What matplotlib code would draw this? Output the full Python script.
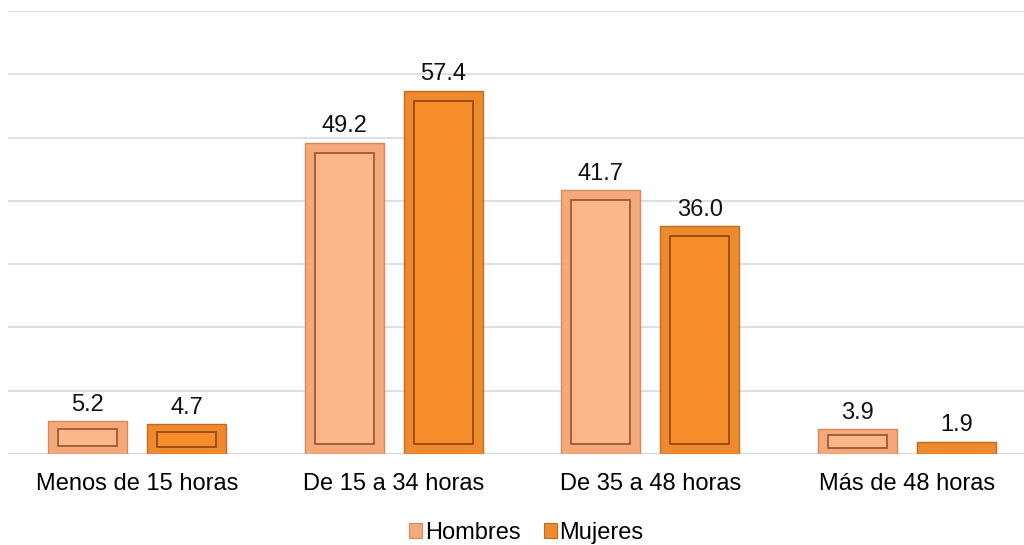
import matplotlib
matplotlib.use("Agg")
import matplotlib.pyplot as plt
from matplotlib.patches import Rectangle
import numpy as np

categories = ["Menos de 15 horas", "De 15 a 34 horas", "De 35 a 48 horas", "Más de 48 horas"]
hombres = [5.2, 49.2, 41.7, 3.9]
mujeres = [4.7, 57.4, 36.0, 1.9]
series_names = ["Hombres", "Mujeres"]

plt.rcParams['font.family'] = ['Liberation Sans', 'DejaVu Sans']

fig = plt.figure(figsize=(10.24, 5.45), dpi=100)
ax = fig.add_axes([8/1024, (545-454)/545, 1016/1024, 443/545])
ax.set_xlim(-0.5026, 3.456)
ax.set_ylim(0, 70)

for yv in range(10, 80, 10):
    ax.axhline(yv, color="#d9d9d9", lw=1.2, zorder=0)
ax.axhline(0, color="#d9d9d9", lw=1.5, zorder=1)

width = 0.307
off = 0.193
styles = [
    dict(fill="#F5A87A", edge="#D48A5C", inner="#9C5B36", innerfill="#FCB68A"),
    dict(fill="#EE8A2E", edge="#C86A1E", inner="#96490F", innerfill="#F78C2A"),
]
x = np.arange(len(categories))
inset_x = 0.039
inset_y = 1.6
for si, vals in enumerate([hombres, mujeres]):
    st = styles[si]
    xs = x + (-off if si == 0 else off)
    ax.bar(xs, vals, width=width, color=st["fill"], edgecolor=st["edge"],
           linewidth=1.0, zorder=2, label=series_names[si])
    for xi, v in zip(xs, vals):
        if v > 3.0:
            iy0 = min(inset_y, v * 0.25)
            ih = v - 2 * iy0
            r = Rectangle((xi - width / 2 + inset_x, iy0), width - 2 * inset_x, max(ih, 0.15),
                          facecolor=st["innerfill"], edgecolor=st["inner"], linewidth=1.3, zorder=3)
            ax.add_patch(r)
        ax.annotate(f"{v:.1f}", (xi, v), xytext=(0, 4), textcoords="offset points",
                    ha="center", va="bottom", fontsize=17, color="#111111")

ax.set_xticks(x)
ax.set_xticklabels(categories, fontsize=17)
ax.tick_params(axis="x", length=0, pad=14)
ax.set_yticks([])
for s in ax.spines.values():
    s.set_visible(False)

leg = fig.legend(loc="lower center", bbox_to_anchor=(0.514, -0.037), ncol=2, frameon=False,
                 fontsize=17, handlelength=0.55, handleheight=0.55, handletextpad=0.1,
                 columnspacing=1.0)
for h in leg.legend_handles:
    h.set_linewidth(0.8)

fig.savefig("out.png", dpi=100)
